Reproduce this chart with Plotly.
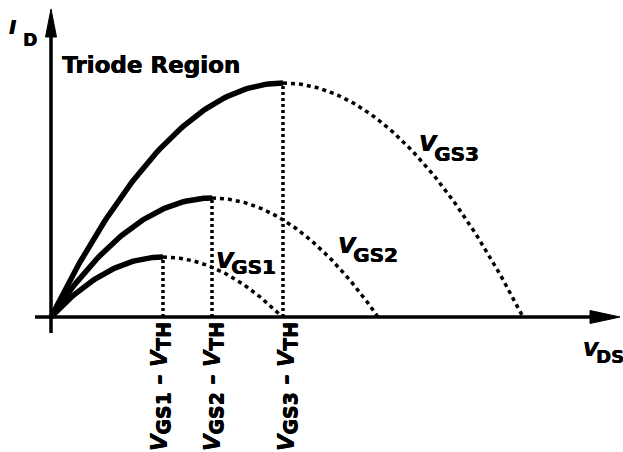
import numpy as np
import plotly.graph_objects as go

# ---- data (arbitrary units) ----
curve_names = ["GS1", "GS2", "GS3"]
v_ov = [1.12, 1.61, 2.32]      # V_GS - V_TH : edge of triode region (V_DS of peak)
i_peak = [0.60, 1.19, 2.34]    # I_D reached at V_DS = V_GS - V_TH
v_zero = [2.31, 3.27, 4.72]    # V_DS where dashed parabola returns to zero

FONT = "DejaVu Sans"
BLACK = "black"
SHADOW = "0.6px 0px 0px black, 0px 0.4px 0px black"

fig = go.Figure()

# dashed continuation of each parabola + dotted vertical markers
for vo, ip, vz in zip(v_ov, i_peak, v_zero):
    xd = np.linspace(vo, vz, 80)
    yd = ip * (1 - ((xd - vo) / (vz - vo)) ** 2)
    fig.add_trace(go.Scatter(x=xd, y=yd, mode="lines",
                             line=dict(color=BLACK, width=3.5, dash="4px,4px"),
                             hoverinfo="skip"))
    fig.add_trace(go.Scatter(x=[vo, vo], y=[0, ip], mode="lines",
                             line=dict(color=BLACK, width=3.5, dash="3px,3px"),
                             hoverinfo="skip"))

# solid triode-region parts
for vo, ip in zip(v_ov, i_peak):
    xs = np.linspace(0, vo, 80)
    ys = ip * (1 - (1 - xs / vo) ** 2)
    fig.add_trace(go.Scatter(x=xs, y=ys, mode="lines",
                             line=dict(color=BLACK, width=5.5),
                             hoverinfo="skip"))

# axes with arrow heads
shapes = [
    dict(type="line", x0=-0.16, y0=0, x1=5.45, y1=0,
         line=dict(color=BLACK, width=3.5)),
    dict(type="path", path="M 5.39,-0.065 L 5.69,0 L 5.39,0.065 Z",
         fillcolor=BLACK, line=dict(color=BLACK, width=1)),
    dict(type="line", x0=0, y0=-0.16, x1=0, y1=2.9,
         line=dict(color=BLACK, width=3.5)),
    dict(type="path", path="M -0.055,2.80 L 0,3.08 L 0.055,2.80 Z",
         fillcolor=BLACK, line=dict(color=BLACK, width=1)),
]

ann = []


def txt(x, y, s, size, xanchor="left", italic=False, angle=0):
    body = f"<b>{s}</b>"
    if italic:
        body = f"<i>{body}</i>"
    ann.append(dict(x=x, y=y, xref="x", yref="y", text=body, showarrow=False,
                    xanchor=xanchor, yanchor="middle", textangle=angle,
                    font=dict(family=FONT, size=size, color=BLACK,
                              shadow=SHADOW)))


txt(0.09, 2.525, "Triode Region", 23)
txt(-0.44, 2.905, "I", 19, italic=True)
txt(-0.30, 2.775, "D", 17)

label_pos = [((1.63, 0.57), (1.78, 0.505)),
             ((2.85, 0.715), (3.00, 0.625)),
             ((3.66, 1.735), (3.81, 1.63))]
for name, (vp, sp) in zip(curve_names, label_pos):
    txt(vp[0], vp[1], "V", 22, italic=True)
    txt(sp[0], sp[1], name, 20)

txt(5.30, -0.315, "V", 19, italic=True)
txt(5.43, -0.39, "DS", 18)

rot_x = [1.09, 1.62, 2.36]
for name, rx in zip(curve_names, rot_x):
    s = ("<b><i>V</i><sub><span style='font-size:19px'>" + name +
         "</span></sub> – <i>V</i><sub><span style='font-size:19px'>TH</span></sub></b>")
    ann.append(dict(x=rx, y=-0.70, xref="x", yref="y", text=s, showarrow=False,
                    xanchor="center", yanchor="middle", textangle=-90,
                    font=dict(family=FONT, size=21, color=BLACK,
                              shadow="0px 0.6px 0px black, 0.4px 0px 0px black")))

fig.update_layout(
    width=623, height=452,
    margin=dict(l=0, r=0, t=0, b=0),
    paper_bgcolor="white", plot_bgcolor="white",
    showlegend=False,
    xaxis=dict(range=[-0.51, 5.72], visible=False, fixedrange=True),
    yaxis=dict(range=[-1.35, 3.17], visible=False, fixedrange=True),
    shapes=shapes, annotations=ann,
)

fig.write_html("out.html", config={"displayModeBar": False},
               post_script="document.body.style.margin='0';")
